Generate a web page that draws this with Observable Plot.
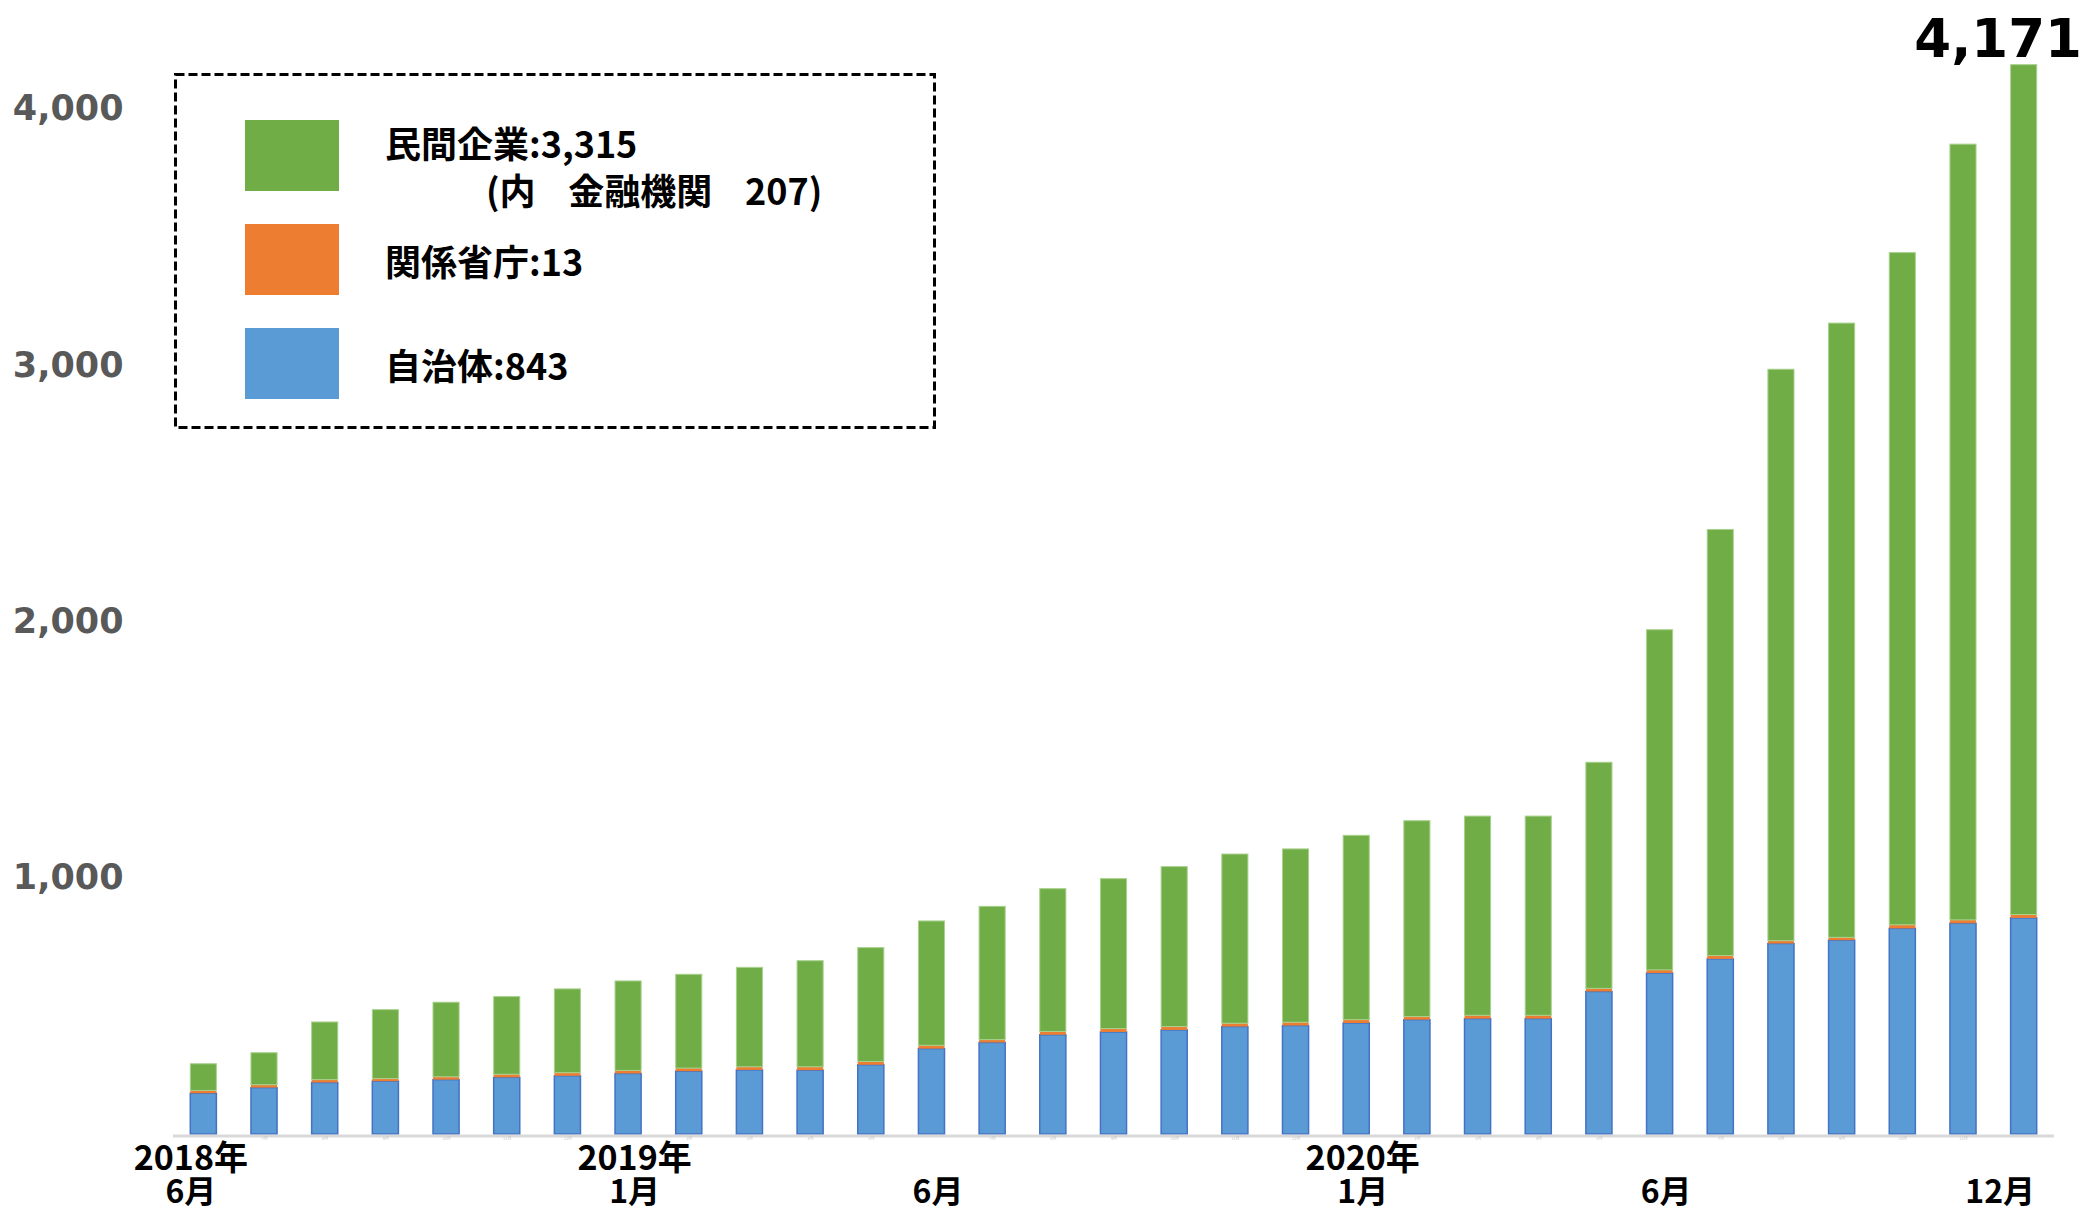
<!DOCTYPE html>
<html lang="ja">
<head>
<meta charset="utf-8">
<script src="https://cdn.jsdelivr.net/npm/d3@7"></script>
<script src="https://cdn.jsdelivr.net/npm/@observablehq/plot@0.6"></script>
<style>
  html, body { margin: 0; padding: 0; background: #fff; }
  #chart { position: relative; width: 2096px; height: 1211px; }
  #chart svg { display: block; }
  #legend { position: absolute; left: 0; top: 0; pointer-events: none; }
</style>
</head>
<body>
<div id="chart"></div>
<script>
// Monthly cumulative counts, June 2018 – December 2020
const months = [
  "2018-06", "2018-07", "2018-08", "2018-09", "2018-10", "2018-11", "2018-12",
  "2019-01", "2019-02", "2019-03", "2019-04", "2019-05", "2019-06", "2019-07",
  "2019-08", "2019-09", "2019-10", "2019-11", "2019-12",
  "2020-01", "2020-02", "2020-03", "2020-04", "2020-05", "2020-06", "2020-07",
  "2020-08", "2020-09", "2020-10", "2020-11", "2020-12"
];

// 自治体
const localGov = [159, 181, 201, 206, 212, 221, 227, 236, 245, 250, 249, 270, 333, 357, 387, 398,
  406, 419, 423, 433, 446, 450, 450, 556, 628, 683, 743, 756, 802, 822, 843];
// 関係省庁
const ministries = [11, 11, 11, 10, 11, 12, 12, 12, 12, 12, 13, 13, 13, 11, 13, 13,
  13, 13, 13, 13, 12, 13, 13, 12, 12, 13, 11, 11, 14, 13, 13];
// 民間企業
const companies = [104, 125, 225, 269, 291, 303, 327, 349, 366, 388, 414, 444, 485, 520, 557, 585,
  624, 660, 676, 719, 764, 777, 777, 882, 1327, 1662, 2229, 2396, 2622, 3026, 3315];

const seriesNames = ["自治体", "関係省庁", "民間企業"];
const seriesColors = ["#5B9BD5", "#ED7D31", "#70AD47"];
const financeCount = 207; // 民間企業のうち金融機関

const yTicks = [1000, 2000, 3000, 4000];
const labelMonths = ["2018-06", "2019-01", "2019-06", "2020-01", "2020-06", "2020-12"];
const labelYears = ["2018年", "2019年", "", "2020年", "", ""];
const labelMonthText = ["6月", "1月", "6月", "1月", "6月", "12月"];

// stacked rows: 自治体 at the bottom, then 関係省庁, then 民間企業
const rows = months.map((m, i) => {
  const b = localGov[i], o = ministries[i], g = companies[i];
  return {month: m, b0: 0, b1: b, o0: b, o1: b + o, g0: b + o, g1: b + o + g, total: b + o + g};
});
const labels = labelMonths.map((m, i) => ({month: m, year: labelYears[i], mon: labelMonthText[i]}));
const last = rows[rows.length - 1];
const first = rows[0];

const jp = "'Noto Sans CJK JP', 'Noto Sans', sans-serif";
const num = "'DejaVu Sans', Verdana, sans-serif";

// two-line date labels under the axis; the outermost ones sit slightly inward
function dateLabels(filter, dx) {
  const common = {x: "month", frameAnchor: "bottom", lineAnchor: "middle", fontWeight: "bold",
    fontFamily: jp, fill: "#000", filter, dx};
  return [
    Plot.text(labels, {...common, text: "year", dy: 25, fontSize: 34}),
    Plot.text(labels, {...common, text: "mon", dy: 58, fontSize: 32})
  ];
}

const chart = Plot.plot({
  width: 2096,
  height: 1211,
  marginLeft: 173,
  marginRight: 42,
  marginTop: 108.5,
  marginBottom: 77,
  style: {background: "#fff", fontFamily: jp},
  x: {type: "band", domain: months, paddingInner: 0.57, paddingOuter: 0.285, round: false},
  y: {domain: [0, 4000]},
  marks: [
    Plot.barY(rows, {x: "month", y1: "b0", y2: "b1", fill: seriesColors[0], stroke: "#4472C4", strokeWidth: 1.5}),
    Plot.barY(rows, {x: "month", y1: "o0", y2: "o1", fill: seriesColors[1]}),
    Plot.barY(rows, {x: "month", y1: "g0", y2: "g1", fill: seriesColors[2], stroke: "#A9D18E", strokeWidth: 1}),
    Plot.ruleY([0], {stroke: "#D9D9D9", strokeWidth: 3, dy: 1.5}),
    Plot.axisY(yTicks, {
      tickSize: 0, tickPadding: 50, tickFormat: d3.format(","), label: null,
      fontSize: 35, fontWeight: "bold", fontFamily: num, color: "#595959"
    }),
    // faint per-month category labels right under the baseline
    Plot.axisX(months.filter(m => !labelMonths.includes(m)), {
      tickSize: 0, tickPadding: 3, label: null, fontSize: 4, color: "#bfbfbf",
      tickFormat: m => (+m.slice(5)) + "月"
    }),
    ...dateLabels(d => d.month === first.month, -13),
    ...dateLabels(d => d.month === last.month, -24),
    ...dateLabels(d => d.month !== first.month && d.month !== last.month, 6),
    Plot.text([last], {
      x: "month", y: "total", text: d => d3.format(",")(d.total),
      dx: -26, dy: -8, lineAnchor: "bottom",
      fontSize: 53, fontWeight: "bold", fontFamily: num, fill: "#000"
    })
  ]
});
document.getElementById("chart").appendChild(chart);

// legend box, overlaid on the upper-left of the plot area
const fmt = d3.format(",");
const lastIdx = months.length - 1;
const gap = "\u00a0\u00a0\u00a0\u00a0";
const legendItems = [
  {color: seriesColors[2], text: `${seriesNames[2]}:${fmt(companies[lastIdx])}`,
   sub: `(内${gap}金融機関${gap}${financeCount})`},
  {color: seriesColors[1], text: `${seriesNames[1]}:${fmt(ministries[lastIdx])}`},
  {color: seriesColors[0], text: `${seriesNames[0]}:${fmt(localGov[lastIdx])}`}
];

const legend = d3.select("#chart").append("svg")
  .attr("id", "legend")
  .attr("width", 2096)
  .attr("height", 1211);

legend.append("rect")
  .attr("x", 175.5).attr("y", 74.5)
  .attr("width", 759).attr("height", 353)
  .attr("fill", "#fff")
  .attr("stroke", "#000")
  .attr("stroke-width", 3)
  .attr("stroke-dasharray", "9 4");

const item = legend.selectAll("g.item").data(legendItems).join("g")
  .attr("class", "item")
  .attr("transform", (d, i) => `translate(0, ${i * 104})`);

item.append("rect")
  .attr("x", 245).attr("y", 120)
  .attr("width", 94).attr("height", 71)
  .attr("fill", d => d.color);

item.append("text")
  .attr("x", 385)
  .attr("y", (d, i) => d.sub ? 142 : 156)
  .attr("dominant-baseline", "central")
  .attr("font-family", jp)
  .attr("font-weight", "bold")
  .attr("font-size", 36)
  .attr("fill", "#000")
  .text(d => d.text);

item.filter(d => d.sub).append("text")
  .attr("x", 486)
  .attr("y", 189)
  .attr("dominant-baseline", "central")
  .attr("font-family", jp)
  .attr("font-weight", "bold")
  .attr("font-size", 36)
  .attr("fill", "#000")
  .text(d => d.sub);
</script>
</body>
</html>
